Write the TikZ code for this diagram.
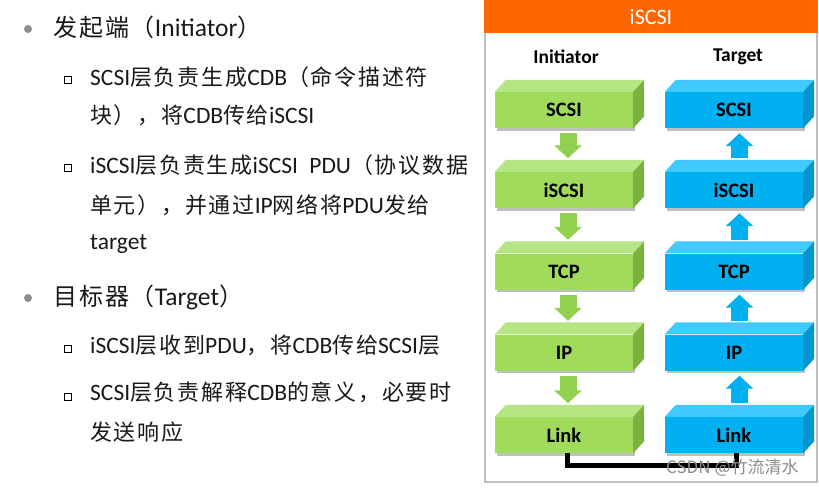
\documentclass[tikz,border=0pt]{standalone}
\usepackage{fontspec}
\setmainfont{Carlito}
\newfontfamily\cjk[LetterSpace=8]{Noto Sans CJK SC}
\newfontfamily\cjkplain{Noto Sans CJK SC}
\usetikzlibrary{arrows.meta,shadows}
\definecolor{gfront}{RGB}{160,219,92}
\definecolor{gtop}{RGB}{182,230,132}
\definecolor{gside}{RGB}{122,178,64}
\definecolor{garr}{RGB}{146,208,80}
\definecolor{bfront}{RGB}{0,176,240}
\definecolor{btop}{RGB}{64,202,255}
\definecolor{bside}{RGB}{0,150,206}
\definecolor{orangehd}{RGB}{255,102,0}
\definecolor{panelgray}{RGB}{191,191,191}
\definecolor{txt}{RGB}{25,25,25}
\definecolor{dotgray}{RGB}{140,140,140}
\newcommand{\zhA}[1]{{\cjk\fontsize{24}{28}\selectfont #1}}
\newcommand{\zhB}[1]{{\cjk\fontsize{22}{26}\selectfont #1}}
\newcommand{\boxfaces}[3]{%
  \fill[#2] (#1.north west) -- ++(11,-12) -- ([shift={(11pt,12pt)}]#1.north east) -- (#1.north east) -- cycle;
  \fill[#3] (#1.north east) -- ++(11,-12) -- ([shift={(11pt,12pt)}]#1.south east) -- (#1.south east) -- cycle;
}
\tikzset{
  toplvl/.style={anchor=base west, inner sep=0pt, text=txt, font=\fontsize{25.5}{30}\selectfont},
  sublvl/.style={anchor=base west, inner sep=0pt, text=txt, font=\fontsize{23.5}{26}\selectfont},
  dotb/.style={circle, fill=dotgray, minimum size=8pt, inner sep=0pt},
  sqb/.style={rectangle, draw=black, line width=1.3pt, fill=white, minimum size=7pt, inner sep=0pt},
  colhead/.style={font=\bfseries\fontsize{19.5}{22}\selectfont, text=black, inner sep=0pt},
  layerbox/.style={rectangle, minimum width=138pt, minimum height=36pt, inner sep=0pt,
     font=\bfseries\fontsize{20.5}{23}\selectfont, text=black,
     drop shadow={shadow xshift=1.5pt, shadow yshift=-2.5pt, opacity=0.25, fill=black}},
  gbox/.style={layerbox, fill=gfront},
  bbox/.style={layerbox, fill=bfront},
  garrow/.style={draw=garr, line width=17pt, -{Triangle[width=27pt,length=13pt]}},
  barrow/.style={draw=bfront, line width=17pt, -{Triangle[width=27pt,length=13pt]}},
  linkline/.style={draw=black, line width=5pt, line join=miter}
}
\begin{document}
\begin{tikzpicture}[x=1pt,y=-1pt]
\useasboundingbox (0,0) rectangle (819,488);
\fill[white] (0,0) rectangle (819,488);

% left text
\node[dotb] (bul1) at (28,29) {};
\node[toplvl] (h1) at (53,36) {\zhA{发起端（}Initiator\zhA{）}};
\node[sqb] (sq1) at (68,80) {};
\node[sublvl] (a1) at (90,85) {SCSI\zhB{层负责生成}CDB\zhB{（命令描述符}};
\node[sublvl] (a2) at (90,123) {\zhB{块），将}CDB\zhB{传给}iSCSI};
\node[sqb] (sq2) at (68,168) {};
\node[sublvl] (b1) at (90,173) {iSCSI\zhB{层负责生成}iSCSI\hspace{6pt} PDU\zhB{（协议数据}};
\node[sublvl] (b2) at (90,213) {\zhB{单元），并通过}IP\zhB{网络将}PDU\zhB{发给}};
\node[sublvl] (b3) at (90,249) {target};
\node[dotb] (bul2) at (28,298) {};
\node[toplvl] (h2) at (53,305) {\zhA{目标器（}Target\zhA{）}};
\node[sqb] (sq3) at (68,349) {};
\node[sublvl] (c1) at (90,353) {iSCSI\zhB{层收到}PDU\zhB{，将}CDB\zhB{传给}SCSI\zhB{层}};
\node[sqb] (sq4) at (68,397) {};
\node[sublvl] (d1) at (90,400) {SCSI\zhB{层负责解释}CDB\zhB{的意义，必要时}};
\node[sublvl] (d2) at (90,440) {\zhB{发送响应}};

% panel
\draw[panelgray, line width=1.5pt] (485,0) rectangle (817,482);
\fill[orangehd] (484.25,0) rectangle (817.75,33);
\node[text=white, font=\fontsize{22}{26}\selectfont, inner sep=0pt] (hdr) at (651,17) {iSCSI};
\node[colhead] (hi) at (566,57) {Initiator};
\node[colhead] (ht) at (738,57) {Target};

% boxes
\node[gbox] (g1) at (564,110) {SCSI};
\node[gbox] (g2) at (564,190) {iSCSI};
\node[gbox] (g3) at (564,271.5) {TCP};
\node[gbox] (g4) at (564,352.5) {IP};
\node[gbox] (g5) at (564,435) {Link};
\node[bbox] (b1x) at (734,110) {SCSI};
\node[bbox] (b2x) at (734,190) {iSCSI};
\node[bbox] (b3x) at (734,271.5) {TCP};
\node[bbox] (b4x) at (734,352.5) {IP};
\node[bbox] (b5x) at (734,435) {Link};
\boxfaces{g1}{gtop}{gside}
\boxfaces{g2}{gtop}{gside}
\boxfaces{g3}{gtop}{gside}
\boxfaces{g4}{gtop}{gside}
\boxfaces{g5}{gtop}{gside}
\boxfaces{b1x}{btop}{bside}
\boxfaces{b2x}{btop}{bside}
\boxfaces{b3x}{btop}{bside}
\boxfaces{b4x}{btop}{bside}
\boxfaces{b5x}{btop}{bside}

% arrows
\draw[garrow] ([shift={(4pt,-5pt)}]g1.south) -- ([shift={(4pt,13.5pt)}]g2.north);
\draw[garrow] ([shift={(4pt,-5pt)}]g2.south) -- ([shift={(4pt,13.5pt)}]g3.north);
\draw[garrow] ([shift={(4pt,-5pt)}]g3.south) -- ([shift={(4pt,13.5pt)}]g4.north);
\draw[garrow] ([shift={(4pt,-5pt)}]g4.south) -- ([shift={(4pt,13.5pt)}]g5.north);
\draw[barrow] ([shift={(5.5pt,13.5pt)}]b2x.north) -- ([shift={(5.5pt,-5pt)}]b1x.south);
\draw[barrow] ([shift={(5.5pt,13.5pt)}]b3x.north) -- ([shift={(5.5pt,-5pt)}]b2x.south);
\draw[barrow] ([shift={(5.5pt,13.5pt)}]b4x.north) -- ([shift={(5.5pt,-5pt)}]b3x.south);
\draw[barrow] ([shift={(5.5pt,13.5pt)}]b5x.north) -- ([shift={(5.5pt,-5pt)}]b4x.south);

% link
\draw[linkline] ([xshift=3.5pt]g5.south) -- ++(0,12.5) -| ([xshift=2.5pt]b5x.south);

% watermark
\node[font=\cjkplain\fontsize{17}{20}\selectfont, text=black!45, anchor=west, inner sep=0pt] (wm) at (666,468) {CSDN @竹流清水};
\end{tikzpicture}
\end{document}
